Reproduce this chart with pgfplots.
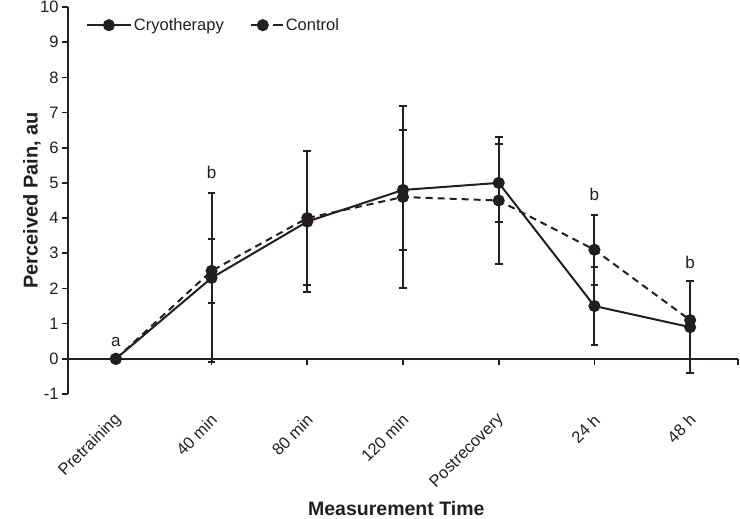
\documentclass[border=0pt]{standalone}
\usepackage{pgfplots}
\pgfplotsset{compat=1.18}
\usepackage{pgfplotstable}
\usepackage{fontspec}
\setmainfont{Liberation Sans}
\definecolor{ink}{HTML}{231F20}
\pgfplotsset{
  cryoleg/.style={legend image code/.code={\draw[mark repeat=2,mark phase=2,##1] plot coordinates {(0pt,0pt) (22pt,0pt) (44pt,0pt)};}},
  ctrlleg/.style={legend image code/.code={\draw[mark repeat=2,mark phase=2,##1, dash pattern=on 6pt off 5pt, dash phase=-2pt] plot coordinates {(0pt,0pt) (14pt,0pt) (28pt,0pt)}; \path (28pt,0pt) -- (34pt,0pt);}},
}
\pgfplotstableread{
x y ey
0 0   0
1 2.3 2.4
2 3.9 2.0
3 4.8 1.7
4 5.0 1.1
5 1.5 1.1
6 0.9 1.3
}\cryo
\pgfplotstableread{
x y ey
0 0   0
1 2.5 0.9
2 4.0 1.9
3 4.6 2.6
4 4.5 1.8
5 3.1 1.0
6 1.1 1.1
}\control
\begin{document}
\begin{tikzpicture}
\useasboundingbox (-68pt,-125pt) rectangle (672pt,394pt);
\begin{axis}[
  at={(0,0)}, anchor=south west,
  width=670pt, height=387pt, scale only axis,
  xmin=-0.5, xmax=6.5, ymin=-1, ymax=10,
  axis x line=middle, axis y line=left,
  axis line style={-, line width=1.7pt, ink},
  xtick={0,...,6},
  extra x ticks={6.5}, extra x tick labels={},
  xticklabels={Pretraining,40 min,80 min,120 min,Postrecovery,24 h,48 h},
  ytick={-1,0,...,10},
  tick align=outside,
  major tick length=6pt,
  tick style={line width=1.7pt, ink},
  every tick label/.append style={font=\fontsize{16.5}{18}\selectfont, text=ink},
  /pgf/number format/assume math mode=true,
  xticklabel style={xshift=5pt, yshift=-50pt, rotate=45, anchor=east},
  xlabel={Measurement Time},
  ylabel={Perceived Pain, au},
  xlabel style={font=\bfseries\fontsize{19.5}{21}\selectfont, text=ink, at={(axis description cs:0.49,-0.297)}, anchor=center},
  ylabel style={font=\bfseries\fontsize{20}{22}\selectfont, text=ink, at={(axis description cs:-0.054,0.5)}, anchor=center},
  legend style={at={(axis description cs:0.022,0.953)}, anchor=west, draw=none, fill=none,
    font=\fontsize{16.5}{18}\selectfont, text=ink, legend columns=2,
    /tikz/every even column/.append style={column sep=22pt}},
  clip=false,
  error bars/error bar style={line width=2pt, solid, ink},
  error bars/error mark options={line width=2pt, mark size=3.8pt, rotate=90, ink, solid},
]
\addplot[ink, line width=2pt, mark=*, mark size=5pt, mark options={solid}, cryoleg,
  error bars/.cd, y dir=both, y explicit]
  table[x=x, y=y, y error=ey] {\cryo};
\addlegendentry{Cryotherapy}
\addplot[ink, line width=2pt, dash pattern=on 7pt off 5pt, mark=*, mark size=5pt, mark options={solid}, ctrlleg,
  error bars/.cd, y dir=both, y explicit]
  table[x=x, y=y, y error=ey] {\control};
\addlegendentry{Control}
\node[font=\fontsize{17}{18}\selectfont, text=ink] at (axis cs:0,0.48) {a};
\node[font=\fontsize{17}{18}\selectfont, text=ink] at (axis cs:1,5.3) {b};
\node[font=\fontsize{17}{18}\selectfont, text=ink] at (axis cs:5,4.67) {b};
\node[font=\fontsize{17}{18}\selectfont, text=ink] at (axis cs:6,2.75) {b};
\end{axis}
\end{tikzpicture}
\end{document}
